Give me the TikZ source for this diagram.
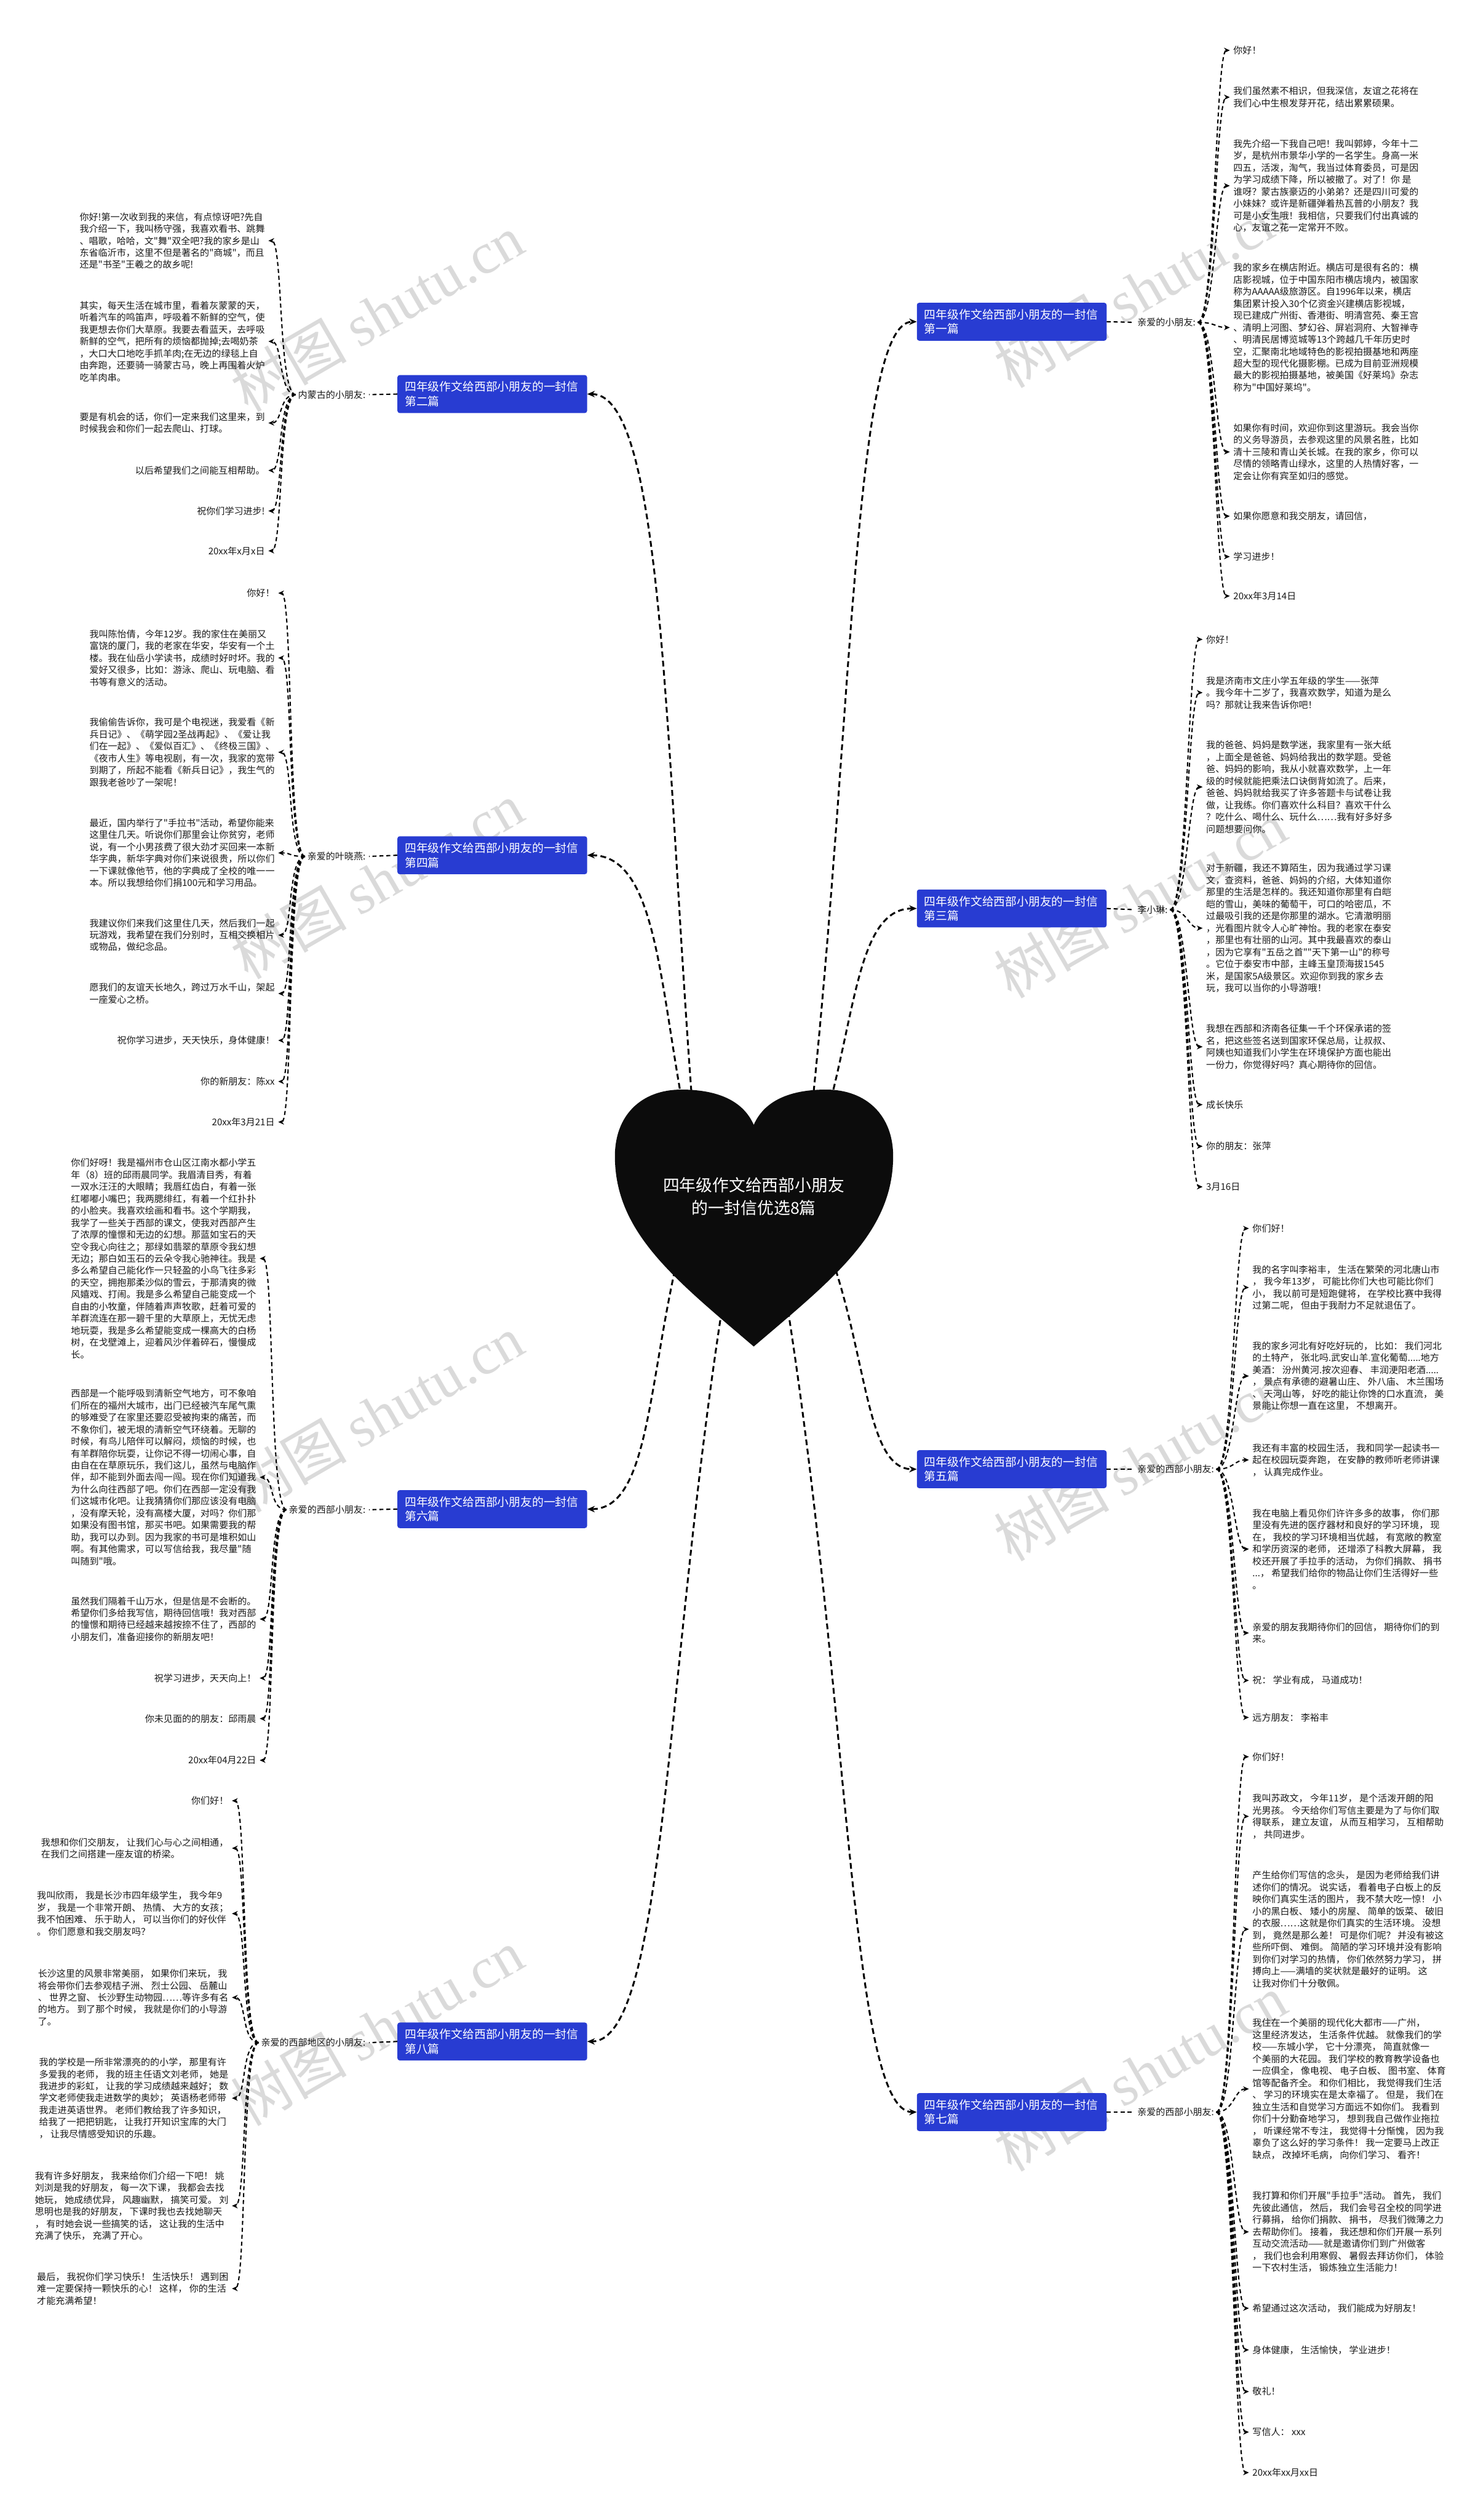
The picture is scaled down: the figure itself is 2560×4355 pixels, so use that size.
\documentclass[tikz,border=0pt]{standalone}
\usepackage{fontspec}
\usetikzlibrary{arrows.meta}
\newfontfamily\cjk{Noto Sans CJK SC}
\newfontfamily\wmser{Liberation Serif}
\newcommand\leaffont{\cjk\fontsize{16}{20.7}\selectfont}
\newcommand\topicfont{\cjk\fontsize{20}{25}\selectfont}
\newcommand\heartfont{\cjk\fontsize{28.5}{39}\selectfont}
\newcommand\wmfont{\cjk\fontsize{100}{110}\selectfont}
\definecolor{topicblue}{RGB}{40,60,210}
\definecolor{txt}{RGB}{25,25,25}
\definecolor{wmgray}{RGB}{218,218,218}
\definecolor{heartblack}{RGB}{12,12,12}
\newcommand\connR[2]{\draw[conn] ([xshift=4pt]#1.east) .. controls +(30,0) and +(-25,0) .. ([xshift=-6pt]#2.west);}
\newcommand\connL[2]{\draw[conn] ([xshift=-4pt]#1.west) .. controls +(-30,0) and +(25,0) .. ([xshift=6pt]#2.east);}
\tikzset{
  leafR/.style={anchor=west, align=left, inner sep=0pt, font=\leaffont, text=txt},
  leafL/.style={anchor=east, align=left, inner sep=0pt, font=\leaffont, text=txt},
  labR/.style={anchor=west, inner sep=0pt, font=\leaffont, text=txt},
  labL/.style={anchor=east, inner sep=0pt, font=\leaffont, text=txt},
  topic/.style={fill=topicblue, rounded corners=4pt, text=white, align=left, text width=302pt, inner xsep=13pt, inner ysep=11pt, font=\topicfont},
  conn/.style={draw=black, line width=2.2pt, dash pattern=on 7pt off 5pt, -{Stealth[length=10pt,width=9pt]}},
  mainconn/.style={draw=black, line width=3.2pt, dash pattern=on 10pt off 6pt, -{Stealth[length=13pt,width=11pt]}},
  linkconn/.style={draw=black, line width=2.2pt, dash pattern=on 7pt off 5pt},
  wm/.style={font=\wmfont, text=wmgray, rotate=30, inner sep=0pt},
}
\begin{document}
\begin{tikzpicture}[x=1pt,y=-1pt]
\fill[white] (0,0) rectangle (2560,4355);
\useasboundingbox (0,0) rectangle (2560,4355);

% watermarks
\foreach \wx/\wy [count=\i] in {652/541,1971/500,652/1522,1971/1555,652/2443,1971/2527,652/3504,1971/3582}
  \node[wm] (wm\i) at (\wx,\wy) {树图 {\wmser shutu.cn}};

% topics
\node[topic] (t1) at (1749,556) {四年级作文给西部小朋友的一封信\\第一篇};
\node[topic] (t2) at (851,681) {四年级作文给西部小朋友的一封信\\第二篇};
\node[topic] (t3) at (1749,1570) {四年级作文给西部小朋友的一封信\\第三篇};
\node[topic] (t4) at (851,1478) {四年级作文给西部小朋友的一封信\\第四篇};
\node[topic] (t5) at (1749,2539) {四年级作文给西部小朋友的一封信\\第五篇};
\node[topic] (t6) at (851,2608) {四年级作文给西部小朋友的一封信\\第六篇};
\node[topic] (t7) at (1749,3650) {四年级作文给西部小朋友的一封信\\第七篇};
\node[topic] (t8) at (851,3528) {四年级作文给西部小朋友的一封信\\第八篇};

% heart start coordinates and main connectors
\coordinate (hs1) at (1400,1950);
\coordinate (hs2) at (1200,1950);
\coordinate (hs3) at (1420,1960);
\coordinate (hs4) at (1190,1960);
\coordinate (hs5) at (1440,2180);
\coordinate (hs6) at (1170,2180);
\coordinate (hs7) at (1360,2250);
\coordinate (hs8) at (1250,2250);
\draw[mainconn] (hs1) .. controls (1475,1250) and (1475,556) .. (t1.west);
\draw[mainconn] (hs3) .. controls (1480,1760) and (1480,1570) .. (t3.west);
\draw[mainconn] (hs5) .. controls (1500,2360) and (1500,2539) .. (t5.west);
\draw[mainconn] (hs7) .. controls (1470,2950) and (1470,3650) .. (t7.west);
\draw[mainconn] (hs2) .. controls (1150,1315) and (1150,681) .. (t2.east);
\draw[mainconn] (hs4) .. controls (1140,1720) and (1140,1478) .. (t4.east);
\draw[mainconn] (hs6) .. controls (1120,2400) and (1120,2608) .. (t6.east);
\draw[mainconn] (hs8) .. controls (1150,2890) and (1150,3528) .. (t8.east);

% heart
\fill[heartblack] (1303,1944) .. controls (1323,1898) and (1373,1883) .. (1428,1883)
  .. controls (1498,1883) and (1544,1928) .. (1544,1998)
  .. controls (1544,2130) and (1440,2210) .. (1303,2327)
  .. controls (1166,2210) and (1063,2130) .. (1063,1998)
  .. controls (1063,1928) and (1108,1883) .. (1178,1883)
  .. controls (1233,1883) and (1283,1898) .. (1303,1944) -- cycle;
\node[font=\heartfont, text=white, align=center, inner sep=0pt] (heart) at (1303,2068) {四年级作文给西部小朋友\\的一封信优选8篇};

% labels
\node[labR] (l1) at (1966,557) {亲爱的小朋友:};
\node[labL] (l2) at (632,682) {内蒙古的小朋友:};
\node[labR] (l3) at (1966,1572) {李小琳:};
\node[labL] (l4) at (632,1480) {亲爱的叶晓燕:};
\node[labR] (l5) at (1966,2539) {亲爱的西部小朋友:};
\node[labL] (l6) at (632,2609) {亲爱的西部小朋友:};
\node[labR] (l7) at (1966,3650) {亲爱的西部小朋友:};
\node[labL] (l8) at (632,3530) {亲爱的西部地区的小朋友:};
\draw[linkconn] (t1.east) -- ([xshift=-6pt]l1.west);
\draw[linkconn] (t3.east) -- ([xshift=-6pt]l3.west);
\draw[linkconn] (t5.east) -- ([xshift=-6pt]l5.west);
\draw[linkconn] (t7.east) -- ([xshift=-6pt]l7.west);
\draw[linkconn] (t2.west) -- ([xshift=6pt]l2.east);
\draw[linkconn] (t4.west) -- ([xshift=6pt]l4.east);
\draw[linkconn] (t6.west) -- ([xshift=6pt]l6.east);
\draw[linkconn] (t8.west) -- ([xshift=6pt]l8.east);

% ---------- branch 1 ----------
\node[leafR] (a1) at (2132,87) {你好！};
\node[leafR] (a2) at (2132,168) {我们虽然素不相识，但我深信，友谊之花将在\\我们心中生根发芽开花，结出累累硕果。};
\node[leafR] (a3) at (2132,321) {我先介绍一下我自己吧！我叫郭婷，今年十二\\岁，是杭州市景华小学的一名学生。身高一米\\四五，活泼，淘气，我当过体育委员，可是因\\为学习成绩下降，所以被撤了。对了！你 是\\谁呀？蒙古族豪迈的小弟弟？还是四川可爱的\\小妹妹？或许是新疆弹着热瓦普的小朋友？我\\可是小女生哦！我相信，只要我们付出真诚的\\心，友谊之花一定常开不败。};
\node[leafR] (a4) at (2132,566) {我的家乡在横店附近。横店可是很有名的：横\\店影视城，位于中国东阳市横店境内，被国家\\称为AAAAA级旅游区。自1996年以来，横店\\集团累计投入30个亿资金兴建横店影视城，\\现已建成广州街、香港街、明清宫苑、秦王宫\\、清明上河图、梦幻谷、屏岩洞府、大智禅寺\\、明清民居博览城等13个跨越几千年历史时\\空，汇聚南北地域特色的影视拍摄基地和两座\\超大型的现代化摄影棚。已成为目前亚洲规模\\最大的影视拍摄基地，被美国《好莱坞》杂志\\称为"中国好莱坞"。};
\node[leafR] (a5) at (2132,781) {如果你有时间，欢迎你到这里游玩。我会当你\\的义务导游员，去参观这里的风景名胜，比如\\清十三陵和青山关长城。在我的家乡，你可以\\尽情的领略青山绿水，这里的人热情好客，一\\定会让你有宾至如归的感觉。};
\node[leafR] (a6) at (2132,892) {如果你愿意和我交朋友，请回信，};
\node[leafR] (a7) at (2132,962) {学习进步！};
\node[leafR] (a8) at (2132,1030) {20xx年3月14日};
\foreach \n in {a1,a2,a3,a4,a5,a6,a7,a8} {\connR{l1}{\n}}

% ---------- branch 2 ----------
\node[leafL] (b1) at (458,416) {你好!第一次收到我的来信，有点惊讶吧?先自\\我介绍一下，我叫杨守强，我喜欢看书、跳舞\\、唱歌，哈哈，文"舞"双全吧?我的家乡是山\\东省临沂市，这里不但是著名的"商城"，而且\\还是"书圣"王羲之的故乡呢!};
\node[leafL] (b2) at (458,590) {其实，每天生活在城市里，看着灰蒙蒙的天，\\听着汽车的鸣笛声，呼吸着不新鲜的空气，使\\我更想去你们大草原。我要去看蓝天，去呼吸\\新鲜的空气，把所有的烦恼都抛掉;去喝奶茶\\，大口大口地吃手抓羊肉;在无边的绿毯上自\\由奔跑，还要骑一骑蒙古马，晚上再围着火炉\\吃羊肉串。};
\node[leafL] (b3) at (458,731) {要是有机会的话，你们一定来我们这里来，到\\时候我会和你们一起去爬山、打球。};
\node[leafL] (b4) at (458,813) {以后希望我们之间能互相帮助。};
\node[leafL] (b5) at (458,883) {祝你们学习进步!};
\node[leafL] (b6) at (458,952) {20xx年x月x日};
\foreach \n in {b1,b2,b3,b4,b5,b6} {\connL{l2}{\n}}

% ---------- branch 4 ----------
\node[leafL] (d1) at (475,1025) {你好！};
\node[leafL] (d2) at (475,1137) {我叫陈怡倩，今年12岁。我的家住在美丽又\\富饶的厦门，我的老家在华安，华安有一个土\\楼。我在仙岳小学读书，成绩时好时坏。我的\\爱好又很多，比如：游泳、爬山、玩电脑、看\\书等有意义的活动。};
\node[leafL] (d3) at (475,1300) {我偷偷告诉你，我可是个电视迷，我爱看《新\\兵日记》、《萌学园2圣战再起》、《爱让我\\们在一起》、《爱似百汇》、《终极三国》、\\《夜市人生》等电视剧，有一次，我家的宽带\\到期了，所起不能看《新兵日记》，我生气的\\跟我老爸吵了一架呢！};
\node[leafL] (d4) at (475,1474) {最近，国内举行了"手拉书"活动，希望你能来\\这里住几天。听说你们那里会让你贫穷，老师\\说，有一个小男孩费了很大劲才买回来一本新\\华字典，新华字典对你们来说很贵，所以你们\\一下课就像他节，他的字典成了全校的唯一一\\本。所以我想给你们捐100元和学习用品。};
\node[leafL] (d5) at (475,1616) {我建议你们来我们这里住几天，然后我们一起\\玩游戏，我希望在我们分别时，互相交换相片\\或物品，做纪念品。};
\node[leafL] (d6) at (475,1717) {愿我们的友谊天长地久，跨过万水千山，架起\\一座爱心之桥。};
\node[leafL] (d7) at (475,1798) {祝你学习进步，天天快乐，身体健康！};
\node[leafL] (d8) at (475,1869) {你的新朋友：陈xx};
\node[leafL] (d9) at (475,1939) {20xx年3月21日};
\foreach \n in {d1,d2,d3,d4,d5,d6,d7,d8,d9} {\connL{l4}{\n}}

% ---------- branch 3 ----------
\node[leafR] (c1) at (2085,1105) {你好！};
\node[leafR] (c2) at (2085,1197) {我是济南市文庄小学五年级的学生——张萍\\。我今年十二岁了，我喜欢数学，知道为是么\\吗？那就让我来告诉你吧！};
\node[leafR] (c3) at (2085,1360) {我的爸爸、妈妈是数学迷，我家里有一张大纸\\，上面全是爸爸、妈妈给我出的数学题。受爸\\爸、妈妈的影响，我从小就喜欢数学，上一年\\级的时候就能把乘法口诀倒背如流了。后来，\\爸爸、妈妈就给我买了许多答题卡与试卷让我\\做，让我练。你们喜欢什么科目？喜欢干什么\\？吃什么、喝什么、玩什么……我有好多好多\\问题想要问你。};
\node[leafR] (c4) at (2085,1604) {对于新疆，我还不算陌生，因为我通过学习课\\文，查资料，爸爸、妈妈的介绍，大体知道你\\那里的生活是怎样的。我还知道你那里有白皑\\皑的雪山，美味的葡萄干，可口的哈密瓜，不\\过最吸引我的还是你那里的湖水。它清澈明丽\\，光看图片就令人心旷神怡。我的老家在泰安\\，那里也有壮丽的山河。其中我最喜欢的泰山\\，因为它享有"五岳之首""天下第一山"的称号\\。它位于泰安市中部，主峰玉皇顶海拔1545\\米，是国家5A级景区。欢迎你到我的家乡去\\玩，我可以当你的小导游哦！};
\node[leafR] (c5) at (2085,1809) {我想在西部和济南各征集一千个环保承诺的签\\名，把这些签名送到国家环保总局，让叔叔、\\阿姨也知道我们小学生在环境保护方面也能出\\一份力，你觉得好吗？真心期待你的回信。};
\node[leafR] (c6) at (2085,1909) {成长快乐};
\node[leafR] (c7) at (2085,1981) {你的朋友：张萍};
\node[leafR] (c8) at (2085,2051) {3月16日};
\foreach \n in {c1,c2,c3,c4,c5,c6,c7,c8} {\connR{l3}{\n}}

% ---------- branch 6 ----------
\node[leafL] (f1) at (443,2175) {你们好呀！我是福州市仓山区江南水都小学五\\年（8）班的邱雨晨同学。我眉清目秀，有着\\一双水汪汪的大眼睛；我唇红齿白，有着一张\\红嘟嘟小嘴巴；我两腮绯红，有着一个红扑扑\\的小脸夹。我喜欢绘画和看书。这个学期我，\\我学了一些关于西部的课文，使我对西部产生\\了浓厚的憧憬和无边的幻想。那蓝如宝石的天\\空令我心向往之；那绿如翡翠的草原令我幻想\\无边；那白如玉石的云朵令我心驰神往。我是\\多么希望自己能化作一只轻盈的小鸟飞往多彩\\的天空，拥抱那柔沙似的雪云，于那清爽的微\\风嬉戏、打闹。我是多么希望自己能变成一个\\自由的小牧童，伴随着声声牧歌，赶着可爱的\\羊群流连在那一碧千里的大草原上，无忧无虑\\地玩耍，我是多么希望能变成一棵高大的白杨\\树，在戈壁滩上，迎着风沙伴着碎石，慢慢成\\长。};
\node[leafL] (f2) at (443,2553) {西部是一个能呼吸到清新空气地方，可不象咱\\们所在的福州大城市，出门已经被汽车尾气熏\\的够难受了在家里还要忍受被拘束的痛苦，而\\不象你们，被无垠的清新空气环绕着。无聊的\\时候，有鸟儿陪伴可以解闷，烦恼的时候，也\\有羊群陪你玩耍，让你记不得一切闹心事，自\\由自在在草原玩乐，我们这儿，虽然与电脑作\\伴，却不能到外面去闯一闯。现在你们知道我\\为什么向往西部了吧。你们在西部一定没有我\\们这城市化吧。让我猜猜你们那应该没有电脑\\，没有摩天轮，没有高楼大厦，对吗？你们那\\如果没有图书馆，那买书吧。如果需要我的帮\\助，我可以办到。因为我家的书可是堆积如山\\啊。有其他需求，可以写信给我，我尽量"随\\叫随到"哦。};
\node[leafL] (f3) at (443,2798) {虽然我们隔着千山万水，但是信是不会断的。\\希望你们多给我写信，期待回信哦！我对西部\\的憧憬和期待已经越来越按捺不住了，西部的\\小朋友们，准备迎接你的新朋友吧！};
\node[leafL] (f4) at (443,2900) {祝学习进步，天天向上！};
\node[leafL] (f5) at (443,2970) {你未见面的的朋友：邱雨晨};
\node[leafL] (f6) at (443,3042) {20xx年04月22日};
\foreach \n in {f1,f2,f3,f4,f5,f6} {\connL{l6}{\n}}

% ---------- branch 5 ----------
\node[leafR] (e1) at (2165,2123) {你们好！};
\node[leafR] (e2) at (2165,2225) {我的名字叫李裕丰， 生活在繁荣的河北唐山市\\， 我今年13岁， 可能比你们大也可能比你们\\小， 我以前可是短跑健将， 在学校比赛中我得\\过第二呢， 但由于我耐力不足就退伍了。};
\node[leafR] (e3) at (2165,2378) {我的家乡河北有好吃好玩的， 比如： 我们河北\\的土特产， 张北吗.武安山羊.宣化葡萄.....地方\\美酒： 汾州黄河.按次迎春、 丰润浭阳老酒.....\\， 景点有承德的避暑山庄、 外八庙、 木兰围场\\、 天河山等， 好吃的能让你馋的口水直流， 美\\景能让你想一直在这里， 不想离开。};
\node[leafR] (e4) at (2165,2523) {我还有丰富的校园生活， 我和同学一起读书一\\起在校园玩耍奔跑， 在安静的教师听老师讲课\\， 认真完成作业。};
\node[leafR] (e5) at (2165,2677) {我在电脑上看见你们许许多多的故事， 你们那\\里没有先进的医疗器材和良好的学习环境， 现\\在， 我校的学习环境相当优越， 有宽敞的教室\\和学历资深的老师， 还增添了科教大屏幕， 我\\校还开展了手拉手的活动， 为你们捐款、 捐书\\...， 希望我们给你的物品让你们生活得好一些\\。};
\node[leafR] (e6) at (2165,2822) {亲爱的朋友我期待你们的回信， 期待你们的到\\来。};
\node[leafR] (e7) at (2165,2904) {祝： 学业有成， 马道成功！};
\node[leafR] (e8) at (2165,2968) {远方朋友： 李裕丰};
\foreach \n in {e1,e2,e3,e4,e5,e6,e7,e8} {\connR{l5}{\n}}

% ---------- branch 8 ----------
\node[leafL] (h1) at (395,3112) {你们好！};
\node[leafL] (h2) at (395,3194) {我想和你们交朋友， 让我们心与心之间相通，\\在我们之间搭建一座友谊的桥梁。};
\node[leafL] (h3) at (395,3307) {我叫欣雨， 我是长沙市四年级学生， 我今年9\\岁， 我是一个非常开朗、 热情、 大方的女孩；\\我不怕困难、 乐于助人， 可以当你们的好伙伴\\。 你们愿意和我交朋友吗？};
\node[leafL] (h4) at (395,3452) {长沙这里的风景非常美丽， 如果你们来玩， 我\\将会带你们去参观桔子洲、 烈士公园、 岳麓山\\、 世界之窗、 长沙野生动物园……等许多有名\\的地方。 到了那个时候， 我就是你们的小导游\\了。};
\node[leafL] (h5) at (395,3626) {我的学校是一所非常漂亮的的小学， 那里有许\\多爱我的老师， 我的班主任语文刘老师， 她是\\我进步的彩虹， 让我的学习成绩越来越好； 数\\学文老师使我走进数学的奥妙； 英语杨老师带\\我走进英语世界。 老师们教给我了许多知识，\\给我了一把把钥匙， 让我打开知识宝库的大门\\， 让我尽情感受知识的乐趣。};
\node[leafL] (h6) at (395,3812) {我有许多好朋友， 我来给你们介绍一下吧！ 姚\\刘浏是我的好朋友， 每一次下课， 我都会去找\\她玩， 她成绩优异， 风趣幽默， 搞笑可爱。 刘\\思明也是我的好朋友， 下课时我也去找她聊天\\， 有时她会说一些搞笑的话， 这让我的生活中\\充满了快乐， 充满了开心。};
\node[leafL] (h7) at (395,3955) {最后， 我祝你们学习快乐！ 生活快乐！ 遇到困\\难一定要保持一颗快乐的心！ 这样， 你的生活\\才能充满希望！};
\foreach \n in {h1,h2,h3,h4,h5,h6,h7} {\connL{l8}{\n}}

% ---------- branch 7 ----------
\node[leafR] (g1) at (2165,3036) {你们好！};
\node[leafR] (g2) at (2165,3139) {我叫苏政文， 今年11岁， 是个活泼开朗的阳\\光男孩。 今天给你们写信主要是为了与你们取\\得联系， 建立友谊， 从而互相学习， 互相帮助\\， 共同进步。};
\node[leafR] (g3) at (2165,3334) {产生给你们写信的念头， 是因为老师给我们讲\\述你们的情况。 说实话， 看着电子白板上的反\\映你们真实生活的图片， 我不禁大吃一惊！ 小\\小的黑白板、 矮小的房屋、 简单的饭菜、 破旧\\的衣服……这就是你们真实的生活环境。 没想\\到， 竟然是那么差！ 可是你们呢？ 并没有被这\\些所吓倒、 难倒。 简陋的学习环境并没有影响\\到你们对学习的热情， 你们依然努力学习， 拼\\搏向上——满墙的奖状就是最好的证明。 这\\让我对你们十分敬佩。};
\node[leafR] (g4) at (2165,3610) {我住在一个美丽的现代化大都市——广州，\\这里经济发达， 生活条件优越。 就像我们的学\\校——东城小学， 它十分漂亮， 简直就像一\\个美丽的大花园。 我们学校的教育教学设备也\\一应俱全， 像电视、 电子白板、 图书室、 体育\\馆等配备齐全。 和你们相比， 我觉得我们生活\\、 学习的环境实在是太幸福了。 但是， 我们在\\独立生活和自觉学习方面远不如你们。 我看到\\你们十分勤奋地学习， 想到我自己做作业拖拉\\， 听课经常不专注， 我觉得十分惭愧， 因为我\\辜负了这么好的学习条件！ 我一定要马上改正\\缺点， 改掉坏毛病， 向你们学习、 看齐！};
\node[leafR] (g5) at (2165,3857) {我打算和你们开展"手拉手"活动。 首先， 我们\\先彼此通信， 然后， 我们会号召全校的同学进\\行募捐， 给你们捐款、 捐书， 尽我们微薄之力\\去帮助你们。 接着， 我还想和你们开展一系列\\互动交流活动——就是邀请你们到广州做客\\， 我们也会利用寒假、 暑假去拜访你们， 体验\\一下农村生活， 锻炼独立生活能力！};
\node[leafR] (g6) at (2165,3989) {希望通过这次活动， 我们能成为好朋友！};
\node[leafR] (g7) at (2165,4061) {身体健康， 生活愉快， 学业进步！};
\node[leafR] (g8) at (2165,4133) {敬礼！};
\node[leafR] (g9) at (2165,4203) {写信人： xxx};
\node[leafR] (g10) at (2165,4273) {20xx年xx月xx日};
\foreach \n in {g1,g2,g3,g4,g5,g6,g7,g8,g9,g10} {\connR{l7}{\n}}
\end{tikzpicture}
\end{document}
